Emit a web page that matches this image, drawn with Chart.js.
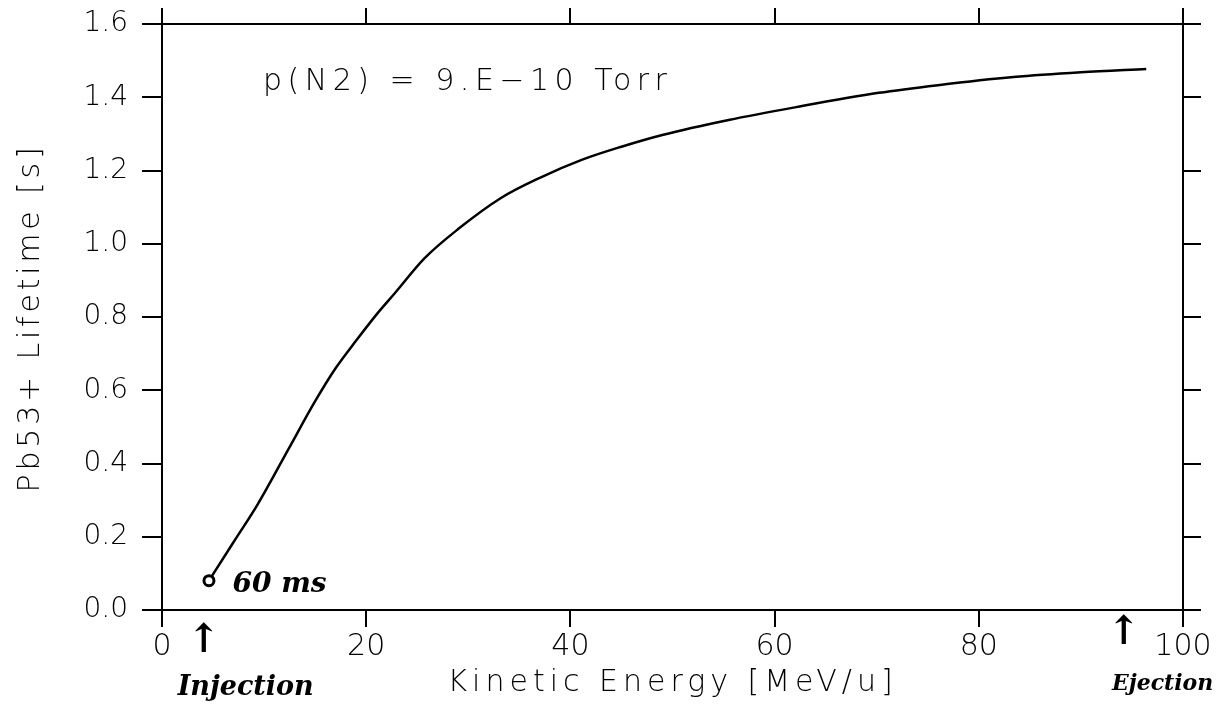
<!DOCTYPE html>
<html>
<head>
<meta charset="utf-8">
<script src="https://cdn.jsdelivr.net/npm/chart.js@4.4.1/dist/chart.umd.min.js"></script>
<style>
  html, body { margin: 0; padding: 0; background: #fff; }
  #wrap { width: 1218px; height: 709px; position: relative; }
</style>
</head>
<body>
<div id="wrap"><canvas id="c"></canvas></div>
<script>
// ---- data ----
const energy   = [4.6, 7.0, 9.4, 12.4, 15.0, 17.0, 19.0, 21.1, 22.8, 25.7, 29.0, 33.2, 37.0, 41.1, 45.0, 49.0, 55.5, 62.1, 70.2, 76.0, 83.4, 90.0, 96.4];
const lifetime = [0.08, 0.185, 0.29, 0.44, 0.57, 0.66, 0.735, 0.81, 0.865, 0.96, 1.04, 1.125, 1.18, 1.229, 1.265, 1.297, 1.338, 1.373, 1.412, 1.433, 1.455, 1.468, 1.477];
const xTickValues = [0, 20, 40, 60, 80, 100];
const yTickValues = [0.0, 0.2, 0.4, 0.6, 0.8, 1.0, 1.2, 1.4, 1.6];
const xTitle = 'Kinetic Energy [MeV/u]';
const yTitle = 'Pb53+ Lifetime [s]';
const pressureLabel = 'p(N2) = 9.E\u221210 Torr';
const injectionLabel = 'Injection';
const ejectionLabel = 'Ejection';
const startNote = '60 ms';
const injectionEnergy = 4.1;
const ejectionEnergy = 94.2;

const FONT = '"DejaVu Sans", "Liberation Sans", sans-serif';
const HAND = '"DejaVu Serif", "Liberation Serif", serif';
const TEXT_WEIGHT = '300';

const points = energy.map((e, i) => ({ x: e, y: lifetime[i] }));
const radii = energy.map((e, i) => (i === 0 ? 5 : 0));

function spacedText(ctx, text, x, y, spacing) {
  ctx.letterSpacing = spacing + 'px';
  ctx.fillText(text, x, y);
  ctx.letterSpacing = '0px';
}

const annotations = {
  id: 'annotations',
  afterDraw(chart) {
    const ctx = chart.ctx;
    const xs = chart.scales.x, ys = chart.scales.y;
    const area = chart.chartArea;
    ctx.save();
    ctx.fillStyle = '#000';
    ctx.textBaseline = 'middle';
    // axis titles
    ctx.font = TEXT_WEIGHT + ' 30px ' + FONT;
    ctx.textAlign = 'center';
    spacedText(ctx, xTitle, (area.left + area.right) / 2, 683, 5);
    ctx.save();
    ctx.translate(31, 318);
    ctx.rotate(-Math.PI / 2);
    spacedText(ctx, yTitle, 0, 0, 3.8);
    ctx.restore();
    // pressure label
    ctx.textAlign = 'left';
    spacedText(ctx, pressureLabel, xs.getPixelForValue(9.9), ys.getPixelForValue(1.44), 5.5);
    // handwritten notes
    ctx.font = 'italic bold 28px ' + HAND;
    ctx.fillText(startNote, xs.getPixelForValue(6.9), ys.getPixelForValue(0.07));
    ctx.textAlign = 'center';
    ctx.font = 'bold 40px ' + HAND;
    ctx.fillText('\u2191', xs.getPixelForValue(injectionEnergy), 642);
    ctx.fillText('\u2191', xs.getPixelForValue(ejectionEnergy), 634);
    ctx.font = 'italic bold 27px ' + HAND;
    ctx.fillText(injectionLabel, xs.getPixelForValue(8.2), 688);
    ctx.font = 'italic bold 22px ' + HAND;
    ctx.fillText(ejectionLabel, xs.getPixelForValue(98.0), 684);
    ctx.restore();
  }
};

const gridBase = { drawOnChartArea: false, color: '#000', lineWidth: 2, tickWidth: 2 };
const borderBase = { color: '#000', width: 2 };

new Chart(document.getElementById('c'), {
  type: 'line',
  data: {
    datasets: [{
      data: points,
      borderColor: '#000',
      backgroundColor: '#fff',
      borderWidth: 2.5,
      pointRadius: radii,
      pointBorderWidth: 3,
      pointBorderColor: '#000',
      cubicInterpolationMode: 'monotone',
      fill: false
    }]
  },
  options: {
    responsive: true,
    maintainAspectRatio: false,
    animation: false,
    layout: { padding: 0 },
    plugins: { legend: { display: false }, tooltip: { enabled: false } },
    scales: {
      x: {
        type: 'linear', position: 'bottom', min: 0, max: 100,
        afterBuildTicks(s) { s.ticks = xTickValues.map(v => ({ value: v })); },
        afterFit(s) { s.height = 99; s.paddingLeft = 0; s.paddingRight = 0; },
        ticks: { color: '#000', font: { family: FONT, size: 30, weight: TEXT_WEIGHT }, padding: 2, maxRotation: 0,
                 callback: v => String(v) },
        grid: { ...gridBase, tickLength: 17 },
        border: borderBase
      },
      x2: {
        type: 'linear', position: 'top', min: 0, max: 100,
        afterBuildTicks(s) { s.ticks = xTickValues.map(v => ({ value: v })); },
        afterFit(s) { s.height = 24; s.paddingLeft = 0; s.paddingRight = 0; },
        ticks: { display: false },
        grid: { ...gridBase, tickLength: 16 },
        border: borderBase
      },
      y: {
        type: 'linear', position: 'left', min: 0, max: 1.6,
        afterBuildTicks(s) { s.ticks = yTickValues.map(v => ({ value: v })); },
        afterFit(s) { s.width = 162; s.paddingTop = 0; s.paddingBottom = 0; },
        ticks: { color: '#000', font: { family: FONT, size: 28, weight: TEXT_WEIGHT }, padding: 14,
                 callback: v => Number(v).toFixed(1) },
        grid: { ...gridBase, tickLength: 20 },
        border: borderBase
      },
      y2: {
        type: 'linear', position: 'right', min: 0, max: 1.6,
        afterBuildTicks(s) { s.ticks = yTickValues.map(v => ({ value: v })); },
        afterFit(s) { s.width = 35; s.paddingTop = 0; s.paddingBottom = 0; },
        ticks: { display: false },
        grid: { ...gridBase, tickLength: 18 },
        border: borderBase
      }
    }
  },
  plugins: [annotations]
});
</script>
</body>
</html>
